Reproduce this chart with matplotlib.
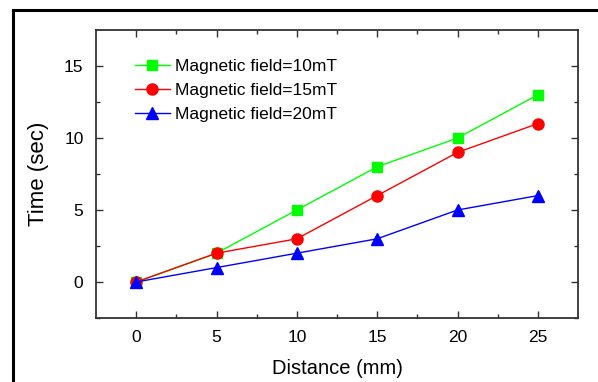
import numpy as np
import matplotlib
matplotlib.use("Agg")
import matplotlib.pyplot as plt
from matplotlib.lines import Line2D

plt.rcParams['font.family'] = ['Liberation Sans', 'DejaVu Sans']

# data
distance = [0, 5, 10, 15, 20, 25]
t_10mT = [0, 2, 5, 8, 10, 13]
t_15mT = [0, 2, 3, 6, 9, 11]
t_20mT = [0, 1, 2, 3, 5, 6]
labels = ["Magnetic field=10mT", "Magnetic field=15mT", "Magnetic field=20mT"]

fig = plt.figure(figsize=(5.98, 3.82), dpi=100)
ax = fig.add_axes([96/598, 1 - 318/382, (578-96)/598, (318-30)/382])

ax.plot(distance, t_10mT, color='#00ff00', lw=1, marker='s', ms=7.5, label=labels[0])
ax.plot(distance, t_15mT, color='#ff0000', lw=1, marker='o', ms=8, label=labels[1])
ax.plot(distance, t_20mT, color='#0000ff', lw=1, marker='^', ms=8.5, label=labels[2])

ax.set_xlim(-2.5, 27.5)
ax.set_ylim(-2.5, 17.5)
ax.set_xticks([0, 5, 10, 15, 20, 25])
ax.set_yticks([0, 5, 10, 15])
ax.set_xticks(np.arange(2.5, 27.5, 5), minor=True)
ax.set_yticks(np.arange(-2.5, 17.5, 5), minor=True)
ax.tick_params(which='both', direction='in', top=True, right=True,
               labeltop=False, labelright=False, color='#333333', width=1)
ax.tick_params(which='major', length=5, labelsize=12.5, pad=9)
ax.tick_params(which='minor', length=3)
for s in ax.spines.values():
    s.set_color('#333333')
    s.set_linewidth(1.3)

ax.set_xlabel("Distance (mm)", fontsize=14.5, labelpad=10)
ax.set_ylabel("Time (sec)", fontsize=16, labelpad=11)

ax.legend(loc='upper left', frameon=False, fontsize=12.5, handlelength=2.0,
          handletextpad=0.3, labelspacing=0.5, borderaxespad=0.4,
          bbox_to_anchor=(0.052, 0.948))

# outer frame (left and top edges only visible)
fig.add_artist(Line2D([13/598, 13/598], [0, 1 - 10/382], color='black', lw=2.2,
                      transform=fig.transFigure))
fig.add_artist(Line2D([13/598, 1], [1 - 10/382, 1 - 10/382], color='black', lw=2.2,
                      transform=fig.transFigure))

fig.savefig("out.png", dpi=100)
